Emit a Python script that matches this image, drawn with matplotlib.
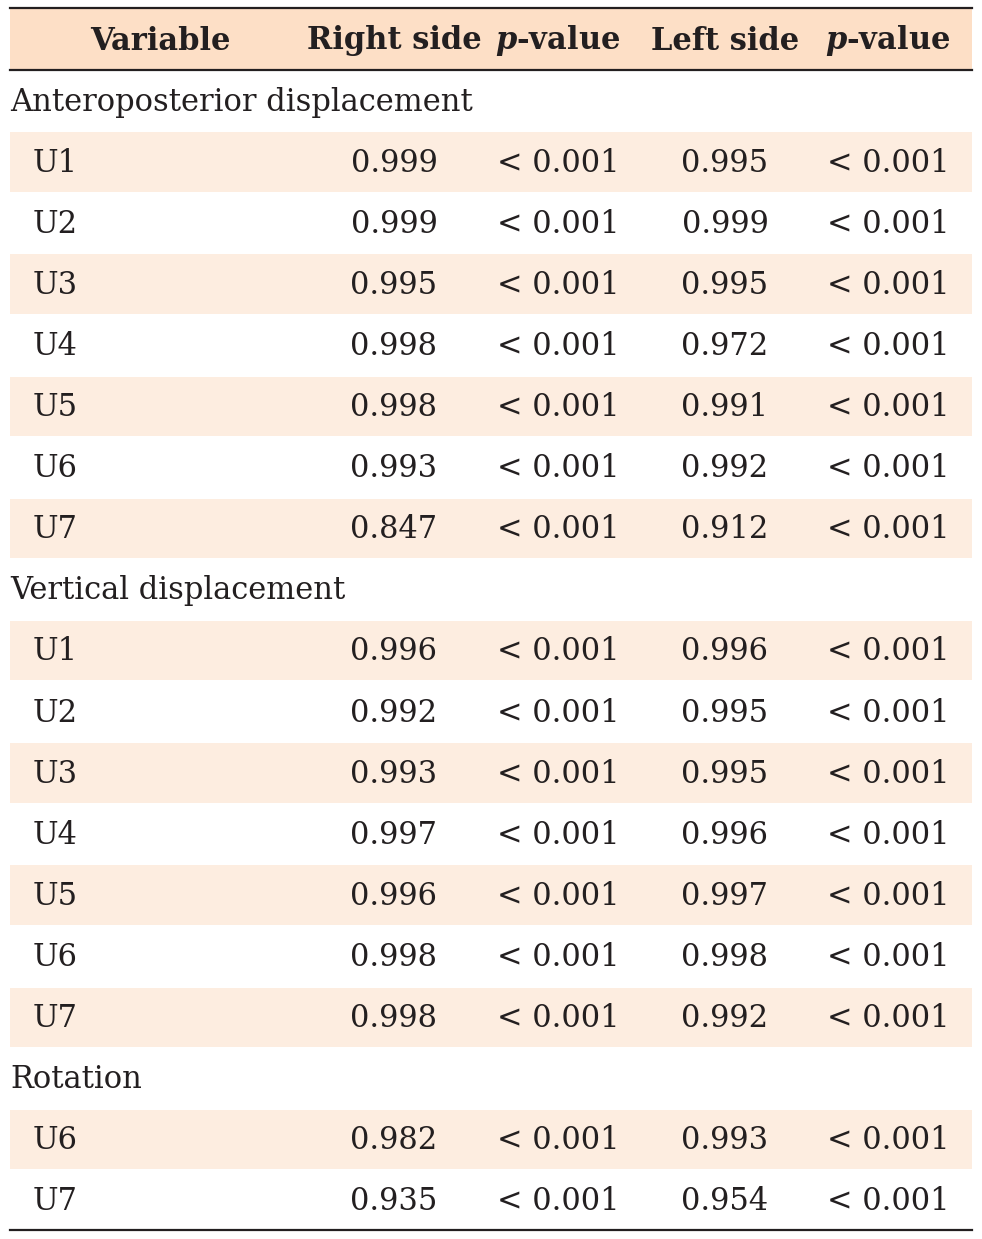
import matplotlib.pyplot as plt
from matplotlib.patches import Rectangle

headers = ["Variable", "Right side", "$\\boldsymbol{p}$-value", "Left side", "$\\boldsymbol{p}$-value"]
sections = ["Anteroposterior displacement", "Vertical displacement", "Rotation"]
labels = [
    ["U1", "U2", "U3", "U4", "U5", "U6", "U7"],
    ["U1", "U2", "U3", "U4", "U5", "U6", "U7"],
    ["U6", "U7"],
]
right_side = [
    [0.999, 0.999, 0.995, 0.998, 0.998, 0.993, 0.847],
    [0.996, 0.992, 0.993, 0.997, 0.996, 0.998, 0.998],
    [0.982, 0.935],
]
left_side = [
    [0.995, 0.999, 0.995, 0.972, 0.991, 0.992, 0.912],
    [0.996, 0.995, 0.995, 0.996, 0.997, 0.998, 0.992],
    [0.993, 0.954],
]
p_text = "< 0.001"

W, H = 982, 1239
fig = plt.figure(figsize=(W / 100, H / 100), dpi=100)
ax = fig.add_axes([0, 0, 1, 1])
ax.set_xlim(0, W)
ax.set_ylim(H, 0)
ax.axis("off")

plt.rcParams["mathtext.fontset"] = "custom"
plt.rcParams["mathtext.bf"] = "DejaVu Serif:bold"
plt.rcParams["mathtext.it"] = "DejaVu Serif:italic"
plt.rcParams["mathtext.bfit"] = "DejaVu Serif:bold:italic"

FONT = "DejaVu Serif"
FS = 22
ink = "#231f20"
head_bg = "#fddfc6"
stripe = "#fdede0"
x0, x1 = 10, 972
col_x = [160, 394, 558, 725, 888]
row_h = 61.1

# header
ax.add_patch(Rectangle((x0, 9), x1 - x0, 60, color=head_bg, lw=0))
ax.plot([x0, x1], [8, 8], color=ink, lw=1.6)
ax.plot([x0, x1], [70, 70], color=ink, lw=1.6)
for x, h in zip(col_x, headers):
    ax.text(x, 41, h, ha="center", va="center", fontsize=FS, family=FONT,
            fontweight="bold", color=ink)

y = 102
for s, sec in enumerate(sections):
    ax.text(x0, y, sec, ha="left", va="center", fontsize=FS, family=FONT, color=ink)
    y += row_h
    for i, lab in enumerate(labels[s]):
        if i % 2 == 0:
            ax.add_patch(Rectangle((x0, y - 31), x1 - x0, 59.5, color=stripe, lw=0))
        ax.text(33, y, lab, ha="left", va="center", fontsize=FS, family=FONT, color=ink)
        ax.text(col_x[1], y, f"{right_side[s][i]:.3f}", ha="center", va="center",
                fontsize=FS, family=FONT, color=ink)
        ax.text(col_x[2], y, p_text, ha="center", va="center", fontsize=FS,
                family=FONT, color=ink)
        ax.text(col_x[3], y, f"{left_side[s][i]:.3f}", ha="center", va="center",
                fontsize=FS, family=FONT, color=ink)
        ax.text(col_x[4], y, p_text, ha="center", va="center", fontsize=FS,
                family=FONT, color=ink)
        y += row_h

ax.plot([x0, x1], [1230, 1230], color=ink, lw=1.6)

fig.savefig("out.png", dpi=100)
